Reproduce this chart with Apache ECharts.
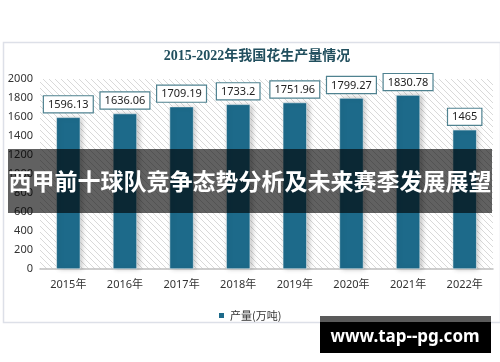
<!DOCTYPE html>
<html>
<head>
<meta charset="utf-8">
<script src="https://cdn.jsdelivr.net/npm/echarts@6/dist/echarts.min.js"></script>
<style>html,body{margin:0;padding:0;background:#fff}#c{width:500px;height:362px}</style>
</head>
<body>
<div id="c"></div>
<script>
const categories = ['2015年','2016年','2017年','2018年','2019年','2020年','2021年','2022年'];
const production = [1596.13, 1636.06, 1709.19, 1733.2, 1751.96, 1799.27, 1830.78, 1465];
const yTicks = [0, 200, 400, 600, 800, 1000, 1200, 1400, 1600, 1800, 2000];
const titleText = '2015-2022年我国花生产量情况';
const seriesName = '产量(万吨)';
const overlayText = '西甲前十球队竞争态势分析及未来赛季发展展望';
const watermarkText = 'www.tap--pg.com';

const pc = document.createElement('canvas');
pc.width = 6; pc.height = 6;
const g = pc.getContext('2d');
g.fillStyle = '#ffffff'; g.fillRect(0,0,6,6);
g.strokeStyle = '#d9d9d9'; g.lineWidth = 1;
g.beginPath();
g.moveTo(-1,-1); g.lineTo(7,7);
g.moveTo(-1,5); g.lineTo(1,7);
g.moveTo(5,-1); g.lineTo(7,1);
g.stroke();

const chart = echarts.init(document.getElementById('c'), null, {renderer:'canvas'});
chart.setOption({
  backgroundColor: '#ffffff',
  animation: false,
  title: {
    text: titleText, left: 252, top: 44, textAlign: 'center',
    textStyle: {fontFamily: '"Liberation Serif","Noto Sans CJK SC",serif', fontWeight: 'bold', fontSize: 14, color: '#214f5e'}
  },
  legend: {
    data: [seriesName], left: 212, top: 305, icon: 'rect', itemWidth: 7, itemHeight: 7, itemGap: 4,
    textStyle: {fontFamily: '"Noto Sans CJK SC","Noto Sans",sans-serif', fontSize: 11, color: '#333'}
  },
  grid: {
    left: 40, right: 7, top: 79, bottom: 93, show: true, borderWidth: 0,
    backgroundColor: {image: pc, repeat: 'repeat'}
  },
  xAxis: {
    type: 'category', data: categories,
    axisLine: {show: true, lineStyle: {color: '#bfbfbf', width: 1.5}},
    axisTick: {show: false},
    axisLabel: {margin: 10, fontFamily: '"Noto Sans","Noto Sans CJK SC",sans-serif', fontSize: 11, color: '#333'}
  },
  yAxis: {
    type: 'value', min: yTicks[0], max: yTicks[yTicks.length-1], interval: yTicks[1]-yTicks[0],
    axisLine: {show: false}, axisTick: {show: false}, splitLine: {show: false},
    axisLabel: {margin: 7, formatter: function (v) { return String(v); }, fontFamily: '"Noto Sans",sans-serif', fontSize: 11, color: '#333'}
  },
  series: [{
    name: seriesName, type: 'bar', data: production, barWidth: 24,
    itemStyle: {color: '#1d6a8a', borderColor: '#ffffff', borderWidth: 0.5,
      shadowBlur: 5, shadowColor: 'rgba(0,0,0,0.25)', shadowOffsetX: 2},
    label: {
      show: true, position: 'top', distance: 5,
      fontFamily: '"Noto Sans",sans-serif', fontSize: 11, color: '#222',
      backgroundColor: '#ffffff', borderColor: '#4f8290', borderWidth: 1.2, padding: [3, 4, 2, 4]
    }
  }],
  graphic: [
    {type: 'rect', left: 1, top: 40, shape: {width: 497, height: 280}, style: {fill: 'none', stroke: '#dde0e8', lineWidth: 1.5}, z: 100},
    {type: 'rect', left: 8, top: 149, shape: {width: 484, height: 64}, style: {fill: 'rgba(0,0,0,0.62)'}, z: 100},
    {type: 'text', x: 250, y: 181, style: {text: overlayText, fill: '#ffffff', fontFamily: '"Noto Sans CJK SC", sans-serif', fontWeight: 'bold', fontSize: 23, align: 'center', verticalAlign: 'middle'}, z: 101},
    {type: 'rect', left: 320, top: 316, shape: {width: 171, height: 6}, style: {fill: '#5a5a5a'}, z: 100},
    {type: 'rect', left: 320, top: 322, shape: {width: 171, height: 31}, style: {fill: '#000000'}, z: 100},
    {type: 'text', x: 405, y: 337, style: {text: watermarkText, fill: '#ffffff', fontFamily: '"Noto Sans", sans-serif', fontWeight: 'bold', fontSize: 17, align: 'center', verticalAlign: 'middle'}, z: 101}
  ]
});
</script>
</body>
</html>
